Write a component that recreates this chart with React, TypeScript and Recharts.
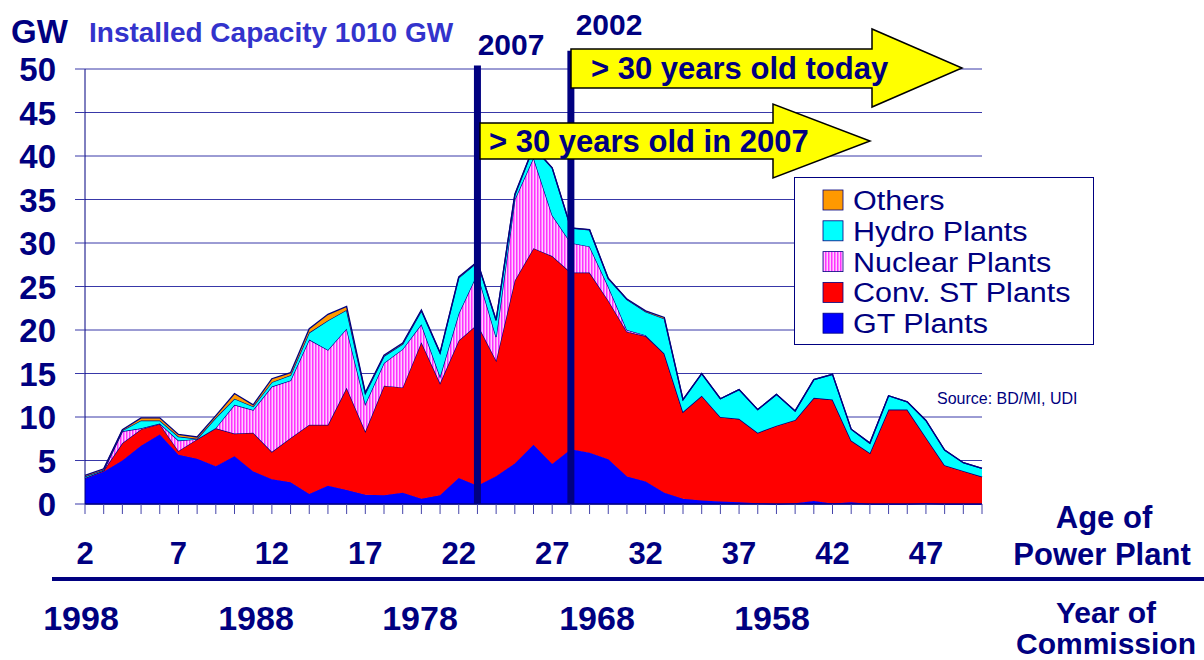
import { Area, AreaChart, CartesianGrid, ReferenceLine, XAxis, YAxis } from "recharts";

const NAVY = "#000080";
const FONT = "'Liberation Sans', Arial, sans-serif";

// age of power plant (years), 2 .. 50
const ages = [
  2, 3, 4, 5, 6, 7, 8, 9, 10, 11, 12, 13, 14, 15, 16, 17, 18, 19, 20, 21, 22, 23, 24, 25,
  26, 27, 28, 29, 30, 31, 32, 33, 34, 35, 36, 37, 38, 39, 40, 41, 42, 43, 44, 45, 46, 47,
  48, 49, 50,
];

// GW per age
const gtPlants = [
  2.9, 3.7, 5.0, 6.7, 8.0, 5.65, 5.2, 4.35, 5.5, 3.75,
  2.85, 2.5, 1.15, 2.1, 1.6, 1.05, 1.0, 1.3, 0.6, 1.0,
  3.0, 2.1, 3.2, 4.65, 6.8, 4.6, 6.3, 5.9, 5.15, 3.15,
  2.6, 1.3, 0.6, 0.4, 0.3, 0.2, 0.1, 0, 0.1, 0.35,
  0.05, 0.2, 0, 0, 0, 0.1, 0, 0, 0,
];
const convSt = [
  0.1, 0.15, 2.0, 1.9, 1.2, 0.45, 2.25, 4.35, 2.6, 4.45,
  3.15, 5.1, 7.95, 7.0, 11.75, 7.3, 12.6, 12.1, 18.0, 12.9,
  15.8, 18.55, 13.3, 21.05, 22.6, 23.9, 20.3, 20.7, 18.25, 16.65,
  16.7, 16.0, 10.0, 12.05, 9.7, 9.6, 8.1, 9.0, 9.55, 11.85,
  11.95, 7.1, 5.85, 10.85, 10.85, 7.55, 4.45, 3.8, 3.15,
];
const nuclear = [
  0, 0, 1.35, 0.1, 0.05, 1.2, 0, 0.05, 3.3, 2.6,
  7.5, 6.6, 9.8, 8.6, 6.8, 3.15, 2.6, 4.4, 2.05, 0.75,
  3.1, 5.85, 2.7, 9.3, 10.4, 4.7, 3.4, 3.0, 1.6, 0.2,
  0.1, 0, 0, 0, 0, 0, 0, 0, 0, 0,
  0, 0, 0, 0, 0, 0, 0, 0, 0,
];
const hydro = [
  0.15, 0.1, 0.1, 0.9, 0.35, 0.45, 0.05, 1.15, 0.7, 0.4,
  0.5, 0.6, 0.8, 3.4, 2.15, 1.2, 0.8, 0.6, 1.55, 2.7,
  4.1, 1.3, 1.9, 0.5, 1.2, 5.4, 1.7, 1.9, 0.9, 3.5,
  2.7, 4.0, 1.4, 2.55, 2.1, 3.35, 2.65, 3.6, 1.05, 2.1,
  2.9, 1.3, 1.15, 1.6, 0.9, 1.95, 1.75, 0.95, 0.95,
];
const others = [
  0.15, 0.1, 0.1, 0.3, 0.3, 0.25, 0.2, 0.25, 0.6, 0.2,
  0.4, 0.3, 0.45, 0.7, 0.4, 0.1, 0.1, 0.1, 0.1, 0.05,
  0.1, 0.05, 0.05, 0.1, 0.05, 0.05, 0.05, 0.05, 0.05, 0.05,
  0.1, 0.15, 0, 0, 0, 0, 0, 0, 0, 0,
  0, 0, 0, 0, 0, 0, 0, 0, 0,
];

const ageLabels = [2, 7, 12, 17, 22, 27, 32, 37, 42, 47];
const yearLabels = ["1998", "1988", "1978", "1968", "1958"];
const yTicks = [0, 5, 10, 15, 20, 25, 30, 35, 40, 45, 50];

const data = ages.map((age, i) => ({
  age,
  gt: gtPlants[i],
  st: convSt[i],
  nuc: nuclear[i],
  hydro: hydro[i],
  other: others[i],
}));

// stacking order bottom -> top
const series = [
  { key: "gt", name: "GT Plants", fill: "#0000FF", stroke: "#0000FF" },
  { key: "st", name: "Conv. ST Plants", fill: "#FF0000", stroke: NAVY },
  { key: "nuc", name: "Nuclear Plants", fill: "url(#nucStripes)", stroke: NAVY },
  { key: "hydro", name: "Hydro Plants", fill: "#00FFFF", stroke: NAVY },
  { key: "other", name: "Others", fill: "#FF9900", stroke: NAVY },
];

const YTick = ({ y, payload }: any) => (
  <text x={56} y={y} dy={12} textAnchor="end" fontSize={33} fontWeight="bold" fill={NAVY} fontFamily={FONT}>
    {payload.value}
  </text>
);

const AgeTick = ({ x, payload }: any) =>
  ageLabels.includes(payload.value) ? (
    <text x={x} y={564} textAnchor="middle" fontSize={31} fontWeight="bold" fill={NAVY} fontFamily={FONT}>
      {payload.value}
    </text>
  ) : (
    <g />
  );

const yearX = [81, 256, 420, 597, 772];

const Overlay = () => (
  <svg
    width={1204}
    height={660}
    style={{ position: "absolute", left: 0, top: 0, pointerEvents: "none" }}
    fontFamily={FONT}
  >
    <defs>
      <pattern id="nucLegend" width="3" height="4" patternUnits="userSpaceOnUse">
        <rect width="3" height="4" fill="#FFCCFF" />
        <rect width="1.5" height="4" fill="#FF33FF" />
      </pattern>
    </defs>
    <text x={11} y={43} fontSize={33} fontWeight="bold" fill={NAVY}>GW</text>
    <text x={89} y={42} fontSize={28} fontWeight="bold" fill="#3333CC">Installed Capacity 1010 GW</text>
    <text x={511} y={55} textAnchor="middle" fontSize={30} fontWeight="bold" fill={NAVY}>2007</text>
    <text x={609} y={35} textAnchor="middle" fontSize={30} fontWeight="bold" fill={NAVY}>2002</text>

    <polygon
      points="571,49 872,49 872,29 962,68 872,107 872,88 571,88"
      fill="#FFFF00"
      stroke="#000"
      strokeWidth={1.5}
    />
    <text x={591} y={79} fontSize={31} fontWeight="bold" fill={NAVY}>&gt; 30 years old today</text>
    <polygon
      points="480,123 773,123 773,104 870,141 773,178 773,159 480,159"
      fill="#FFFF00"
      stroke="#000"
      strokeWidth={1.5}
    />
    <text x={489} y={152} fontSize={31} fontWeight="bold" fill={NAVY}>&gt; 30 years old in 2007</text>

    <rect x={794.5} y={177.5} width={299} height={167} fill="#fff" stroke={NAVY} strokeWidth={1} />
    {[...series].reverse().map((s, i) => {
      const cy = 200 + i * 30.8;
      return (
        <g key={s.key}>
          <rect
            x={823}
            y={cy - 10}
            width={20}
            height={20}
            fill={s.key === "nuc" ? "url(#nucLegend)" : s.fill}
            stroke={NAVY}
            strokeWidth={0.8}
          />
          <text
            transform={`translate(853 ${cy + 10}) scale(1.13 1)`}
            fontSize={27}
            fill={NAVY}
          >
            {s.name}
          </text>
        </g>
      );
    })}

    <text x={937} y={404} fontSize={16} fill={NAVY}>Source: BD/MI, UDI</text>

    <text x={1104} y={528} textAnchor="middle" fontSize={31} fontWeight="bold" fill={NAVY}>Age of</text>
    <text x={1102} y={565} textAnchor="middle" fontSize={31} fontWeight="bold" fill={NAVY}>Power Plant</text>
    <rect x={52} y={577} width={1152} height={4} fill={NAVY} />
    {yearLabels.map((t, i) => (
      <text key={t} x={yearX[i]} y={630} textAnchor="middle" fontSize={34} fontWeight="bold" fill={NAVY}>{t}</text>
    ))}
    <text x={1106} y={623} textAnchor="middle" fontSize={30} fontWeight="bold" fill={NAVY}>Year of</text>
    <text x={1106} y={654} textAnchor="middle" fontSize={30} fontWeight="bold" fill={NAVY}>Commission</text>
  </svg>
);

export default function App() {
  return (
    <div style={{ position: "fixed", left: 0, top: 0, width: 1204, height: 660, background: "#fff" }}>
      <AreaChart
        width={1204}
        height={660}
        data={data}
        margin={{ top: 69, right: 222, bottom: 0, left: 0 }}
        style={{ position: "absolute", left: 0, top: 0 }}
      >
        <defs>
          <pattern id="nucStripes" width="3" height="4" patternUnits="userSpaceOnUse">
            <rect width="3" height="4" fill="#FFCCFF" />
            <rect width="1.5" height="4" fill="#FF33FF" />
          </pattern>
        </defs>
        <CartesianGrid vertical={false} stroke="#3838A8" strokeWidth={1} />
        <XAxis
          dataKey="age"
          height={156}
          interval={0}
          tickSize={10}
          tick={<AgeTick />}
          axisLine={{ stroke: NAVY, strokeWidth: 1.5 }}
          tickLine={{ stroke: "#4444AA" }}
        />
        <YAxis
          width={85}
          domain={[0, 50]}
          ticks={yTicks}
          interval={0}
          tickSize={10}
          tick={<YTick />}
          axisLine={{ stroke: NAVY }}
          tickLine={{ stroke: "#3838A8" }}
        />
        {series.map((s) => (
          <Area
            key={s.key}
            type="linear"
            dataKey={s.key}
            name={s.name}
            stackId="1"
            fill={s.fill}
            fillOpacity={1}
            stroke={s.stroke}
            strokeWidth={1.3}
            isAnimationActive={false}
          />
        ))}
        <ReferenceLine
          segment={[{ x: 23, y: 0 }, { x: 23, y: 50.4 }]}
          stroke={NAVY}
          strokeWidth={7}
          ifOverflow="visible"
        />
        <ReferenceLine
          segment={[{ x: 28, y: 0 }, { x: 28, y: 52.1 }]}
          stroke={NAVY}
          strokeWidth={7}
          ifOverflow="visible"
        />
      </AreaChart>
      <Overlay />
    </div>
  );
}
